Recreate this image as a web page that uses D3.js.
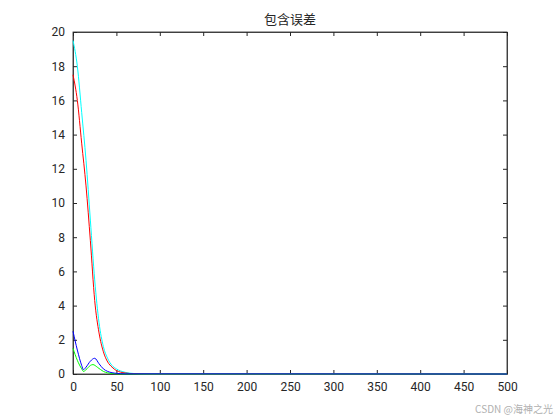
<!DOCTYPE html><html><head><meta charset="utf-8"><script src="https://cdn.jsdelivr.net/npm/d3@7"></script>
<style>body{margin:0;background:#fff}</style></head><body><svg id="c" width="560" height="420"></svg>
<script>
const xTicks=[0,50,100,150,200,250,300,350,400,450,500];
const yTicks=[0,2,4,6,8,10,12,14,16,18,20];
const cyanX=[0,5,10,15,20,25,30,35,40,45,50,60,70,90,500];
const cyanY=[19.5,18,15.3,12.5,9,5.5,3,1.6,0.9,0.5,0.3,0.1,0.03,0,0];
const redX=[0,5,10,15,20,25,30,35,40,45,50,60,70,90,500];
const redY=[17.5,16,13.5,11,7.8,4.3,2.4,1.3,0.7,0.4,0.2,0.06,0.02,0,0];
const blueX=[0,5,10,12,15,20,25,30,35,40,50,60,500];
const blueY=[2.5,1.4,0.5,0.25,0.4,0.75,0.92,0.6,0.3,0.15,0.04,0.01,0];
const greenX=[0,5,10,12,15,20,23,28,35,45,60,500];
const greenY=[1.5,0.8,0.3,0.15,0.25,0.5,0.55,0.4,0.15,0.03,0,0];
const svg=d3.select("#c");
const L=73,R=507,T=32,B=374;
const x=d3.scaleLinear().domain([0,500]).range([L,R]);
const y=d3.scaleLinear().domain([0,20]).range([B,T]);
const ff="Roboto, Arial, sans-serif";
svg.append("rect").attr("x",L).attr("y",T).attr("width",R-L).attr("height",B-T).attr("fill","#fff").attr("stroke","#262626").attr("stroke-width",0.8);
const ax=svg.append("g").attr("transform",`translate(0,${B})`).call(d3.axisBottom(x).tickValues(xTicks).tickSizeInner(-4).tickSizeOuter(0).tickPadding(8));
const ay=svg.append("g").attr("transform",`translate(${L},0)`).call(d3.axisLeft(y).tickValues(yTicks).tickSizeInner(-4).tickSizeOuter(0).tickPadding(8));
svg.append("g").attr("transform",`translate(0,${T})`).call(d3.axisTop(x).tickValues(xTicks).tickSizeInner(-4).tickSizeOuter(0).tickFormat(""));
svg.append("g").attr("transform",`translate(${R},0)`).call(d3.axisRight(y).tickValues(yTicks).tickSizeInner(-4).tickSizeOuter(0).tickFormat(""));
svg.selectAll(".domain").attr("stroke","#262626").attr("stroke-width",0.8);
svg.selectAll(".tick line").attr("stroke","#262626");
svg.selectAll(".tick text").attr("font-family",ff).attr("font-size",12).attr("fill","#262626");
const line=d3.line().x(d=>x(d[0])).y(d=>y(d[1])).curve(d3.curveMonotoneX);
const series=[[cyanX,cyanY,"#00ffff"],[redX,redY,"#ff0000"],[greenX,greenY,"#00ff00"],[blueX,blueY,"#0000ff"]];
series.forEach(([xs,ys,c])=>svg.append("path").attr("d",line(xs.map((v,i)=>[v,ys[i]]))).attr("fill","none").attr("stroke",c).attr("stroke-width",1));
svg.append("text").attr("x",(L+R)/2).attr("y",24).attr("text-anchor","middle").attr("font-family","Noto Sans CJK SC").attr("font-size",13).attr("fill","#262626").text("包含误差");
svg.append("text").attr("x",553).attr("y",413).attr("text-anchor","end").attr("font-family","Noto Sans CJK SC").attr("font-size",10).attr("fill","#b0b0b0").text("CSDN @海神之光");
</script></body></html>
